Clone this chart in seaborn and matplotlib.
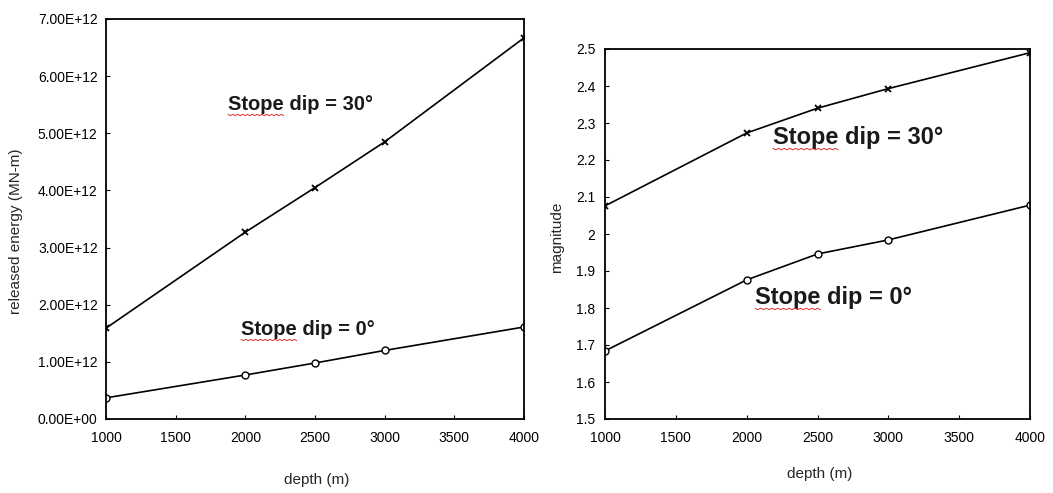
import numpy as np
import pandas as pd
import seaborn as sns
import matplotlib
matplotlib.use("Agg")
import matplotlib.pyplot as plt
from matplotlib.ticker import FuncFormatter, FixedLocator
from matplotlib.lines import Line2D

# ---- data ----
depth = [1000, 2000, 2500, 3000, 4000]
energy_dip30 = [1.59e12, 3.27e12, 4.05e12, 4.85e12, 6.67e12]
energy_dip0 = [0.37e12, 0.77e12, 0.98e12, 1.20e12, 1.61e12]
mag_dip30 = [2.076, 2.273, 2.340, 2.393, 2.490]
mag_dip0 = [1.684, 1.876, 1.946, 1.984, 2.078]
depth_ticks = [1000, 1500, 2000, 2500, 3000, 3500, 4000]
energy_ticks = [0, 1e12, 2e12, 3e12, 4e12, 5e12, 6e12, 7e12]
mag_ticks = [1.5, 1.6, 1.7, 1.8, 1.9, 2.0, 2.1, 2.2, 2.3, 2.4, 2.5]
label_30 = "Stope dip = 30°"
label_0 = "Stope dip = 0°"

sns.set_style("white")
plt.rcParams["font.family"] = ["Liberation Sans", "DejaVu Sans"]

fig = plt.figure(figsize=(10.53, 4.93), dpi=100)
axL = fig.add_axes([106/1053, 1-419/493, (524-106)/1053, (419-19)/493])
axR = fig.add_axes([605/1053, 1-419/493, (1030-605)/1053, (419-49)/493])

def draw_series(ax, y30, y0):
    sns.lineplot(x=depth, y=y30, ax=ax, color="black", lw=1.2, marker="x",
                 markersize=5, markeredgewidth=1.3, markeredgecolor="black")
    sns.lineplot(x=depth, y=y0, ax=ax, color="black", lw=1.2, marker="o",
                 markersize=5, markerfacecolor="white", markeredgewidth=1.0,
                 markeredgecolor="black")

draw_series(axL, energy_dip30, energy_dip0)
draw_series(axR, mag_dip30, mag_dip0)

for ax in (axL, axR):
    ax.set_xlim(1000, 4000)
    ax.xaxis.set_major_locator(FixedLocator(depth_ticks))
    for s in ax.spines.values():
        s.set_visible(True)
        s.set_color("black")
        s.set_linewidth(1.3)
    ax.tick_params(axis="both", direction="in", length=3, width=0.8,
                   colors="black", labelsize=10, bottom=True, left=True)
    ax.tick_params(axis="x", pad=9)
    ax.set_xlabel("depth (m)", fontsize=11)

axL.set_ylim(0, 7e12)
axL.yaxis.set_major_locator(FixedLocator(energy_ticks))
axL.yaxis.set_major_formatter(FuncFormatter(lambda v, p: f"{v:.2E}"))
axL.tick_params(axis="y", pad=6)
axL.set_ylabel("released energy (MN-m)", fontsize=11)
axL.yaxis.set_label_coords(-0.198, 0.47)
axL.xaxis.set_label_coords(0.505, -0.135)

axR.set_ylim(1.5, 2.5)
axR.yaxis.set_major_locator(FixedLocator(mag_ticks))
axR.yaxis.set_major_formatter(FuncFormatter(lambda v, p: f"{v:g}"))
axR.tick_params(axis="y", pad=7)
axR.set_ylabel("magnitude", fontsize=11)
axR.yaxis.set_label_coords(-0.096, 0.49)
axR.xaxis.set_label_coords(0.506, -0.13)

annots = [
    (axL, 0.292, 0.7725, label_30, 14.5),
    (axL, 0.323, 0.21, label_0, 14.5),
    (axR, 0.395, 0.743, label_30, 17),
    (axR, 0.353, 0.311, label_0, 17),
]
texts = []
for ax, fx, fy, s, fs in annots:
    ax.text(fx, fy, s, transform=ax.transAxes, fontsize=fs,
            fontweight="bold", color="#1a1a1a", va="baseline", ha="left")
    texts.append((ax, fx, fy, fs))

fig.canvas.draw()
renderer = fig.canvas.get_renderer()
for ax, fx, fy, fs in texts:
    tmp = ax.text(fx, fy, "Stope", transform=ax.transAxes, fontsize=fs,
                  fontweight="bold", va="baseline", ha="left", alpha=0)
    bb = tmp.get_window_extent(renderer)
    tmp.remove()
    base = ax.transAxes.transform((fx, fy))[1]
    xs = np.linspace(bb.x0, bb.x1, 24)
    ys = base - 5 + np.where(np.arange(24) % 2 == 0, 0.7, -0.7)
    pts = fig.transFigure.inverted().transform(np.column_stack([xs, ys]))
    fig.add_artist(Line2D(pts[:, 0], pts[:, 1], color="#e03030", lw=0.7,
                          transform=fig.transFigure))

fig.savefig("out.png", dpi=100, facecolor="white")
